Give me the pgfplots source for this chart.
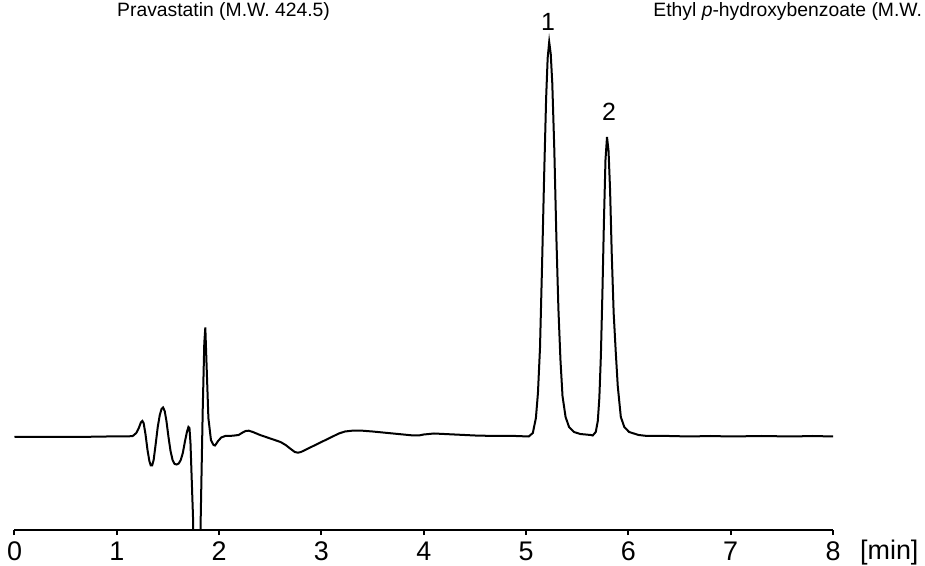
\documentclass[border=0pt]{standalone}
\usepackage{pgfplots}
\pgfplotsset{compat=1.18}
\usepackage{fontspec}
\setmainfont{Liberation Sans}

\pgfplotstableread{
t y
0.00 91.0
0.30 91.2
0.60 91.0
0.90 91.5
1.100 91.5
1.156 92.0
1.190 95.0
1.215 100.0
1.235 105.5
1.250 107.0
1.262 105.0
1.280 94.0
1.300 78.0
1.318 67.0
1.332 62.5
1.345 62.5
1.360 68.0
1.380 84.0
1.400 101.0
1.420 113.0
1.437 119.0
1.452 120.5
1.468 117.0
1.485 107.0
1.505 91.0
1.525 77.0
1.545 68.0
1.565 64.0
1.585 63.5
1.605 64.5
1.625 68.0
1.645 75.0
1.665 86.0
1.685 96.0
1.700 101.0
1.710 100.0
1.720 85.0
1.745 10.0
1.785 -400.0
1.820 10.0
1.840 120.0
1.855 185.0
1.865 200.5
1.875 170.0
1.895 110.0
1.920 88.0
1.945 83.0
1.960 82.5
1.990 87.0
2.020 90.5
2.060 92.0
2.100 92.0
2.150 92.5
2.190 93.0
2.230 95.5
2.260 97.0
2.290 97.3
2.330 96.0
2.400 93.0
2.500 89.5
2.600 86.0
2.650 83.0
2.700 79.0
2.740 76.0
2.770 75.3
2.800 76.0
2.900 81.0
3.000 86.0
3.100 91.0
3.170 94.5
3.230 96.5
3.300 97.3
3.400 97.3
3.500 96.5
3.600 95.5
3.700 94.5
3.800 93.5
3.900 92.5
3.950 92.5
4.000 93.5
4.100 94.5
4.200 94.0
4.300 93.5
4.500 92.5
4.700 92.0
4.900 92.0
5.026 91.5
5.066 95.0
5.096 110.0
5.116 135.0
5.136 180.0
5.156 262.0
5.176 350.0
5.196 430.0
5.211 470.0
5.226 486.0
5.241 474.0
5.256 445.0
5.276 378.0
5.296 291.0
5.316 219.0
5.336 168.0
5.356 132.0
5.386 111.0
5.420 101.0
5.468 96.0
5.530 94.0
5.632 93.0
5.651 92.5
5.681 96.0
5.701 107.0
5.716 130.0
5.731 172.0
5.746 235.0
5.761 307.0
5.776 368.0
5.791 391.0
5.806 377.0
5.821 338.0
5.837 275.0
5.856 215.0
5.877 175.0
5.896 142.0
5.926 111.0
5.960 101.0
6.007 96.0
6.100 93.0
6.186 92.0
6.400 92.0
6.600 91.5
6.800 92.0
7.000 91.5
7.300 92.0
7.600 91.5
7.800 92.0
8.000 91.5
}\chrom

\begin{document}
\begin{tikzpicture}
\begin{axis}[
    scale only axis,
    width=409.25bp, height=255bp,
    xmin=0, xmax=8, ymin=-2, ymax=508,
    axis x line=bottom, axis y line=none,
    axis line style={-, line width=1bp},
    xtick={0,1,...,8},
    tick align=outside,
    major tick length=2.5bp,
    every tick/.style={black, line width=1bp},
    /pgf/number format/assume math mode=true,
    xticklabel style={font=\fontsize{13.5}{16}\selectfont, anchor=base, inner sep=0pt, yshift=-12.5bp},
    clip mode=individual,
]
\addplot[black, line width=1bp] table[x=t, y=y] {\chrom};

\node[font=\fontsize{12.5}{15}\selectfont] at (axis cs:5.215,506.5) {1};
\node[font=\fontsize{12.5}{15}\selectfont] at (axis cs:5.811,416) {2};
\node[font=\fontsize{9.7}{11.6}\selectfont] at (axis cs:2.043,516) {Pravastatin (M.W. 424.5)};
\node[font=\fontsize{9.7}{11.6}\selectfont, anchor=west, inner sep=0pt] at (axis cs:6.241,516) {Ethyl \textit{p}-hydroxybenzoate (M.W.};
\node[font=\fontsize{13.5}{16}\selectfont, anchor=base, inner sep=0pt] at (axis cs:8.55,-31) {[min]};

\coordinate (bbsw) at (axis cs:-0.1417,-37);
\coordinate (bbne) at (axis cs:8.899,528);
\end{axis}
\pgfresetboundingbox
\useasboundingbox (bbsw) rectangle (bbne);
\end{tikzpicture}
\end{document}
